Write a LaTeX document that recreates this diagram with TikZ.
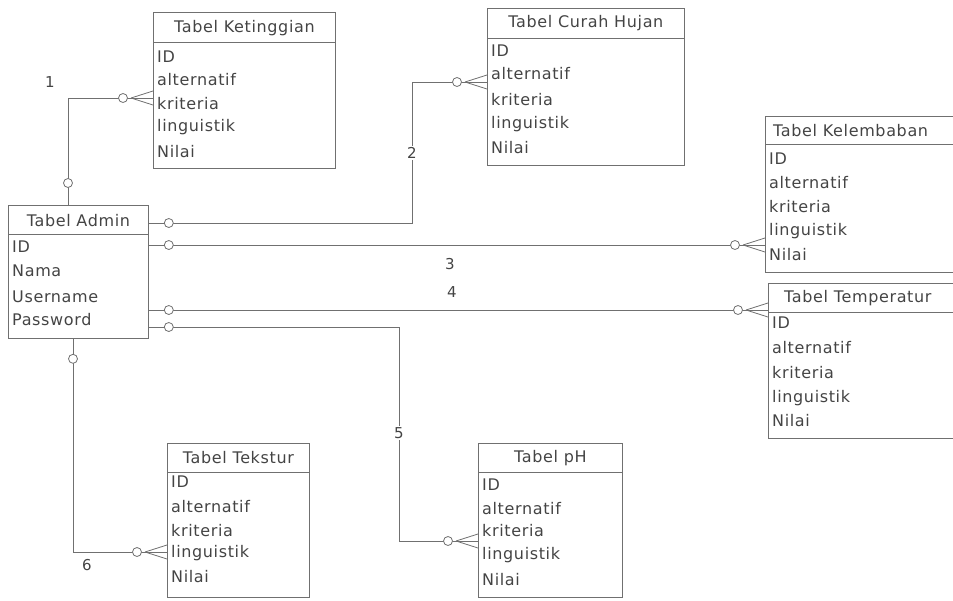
\documentclass[tikz,border=0pt]{standalone}
\usepackage{fontspec}
\setmainfont{DejaVu Sans}
\newfontfamily\erfont[LetterSpace=4]{DejaVu Sans}
\usetikzlibrary{calc}
\definecolor{linec}{RGB}{112,112,112}
\definecolor{textc}{RGB}{68,68,68}
\tikzset{
  ebox/.style={draw=linec, line width=0.8pt, inner sep=0pt, anchor=north west},
  eline/.style={draw=linec, line width=0.8pt},
  ttl/.style={text=textc, font=\erfont\fontsize{16}{19}\selectfont, inner sep=0pt},
  row/.style={text=textc, font=\erfont\fontsize{16}{19}\selectfont, inner sep=0pt, anchor=west},
  lbl/.style={text=textc, font=\erfont\fontsize{15}{18}\selectfont, inner sep=1.5pt, fill=white},
  conn/.style={draw=linec, line width=0.8pt},
  ring/.style={draw=linec, line width=0.8pt, fill=white},
}
\newcommand{\ent}[6]{%
  \node[ebox, minimum width=#4pt, minimum height=#5pt] (#1) at (#2,#3) {};
  \draw[eline] ($(#1.north west)+(0,#6)$) -- ($(#1.north east)+(0,#6)$);
}
% crow's foot entering target point #1 from the left
\newcommand{\crowfoot}[1]{%
  \draw[conn] ($(#1)+(-22,0)$) -- ($(#1)+(0,-7)$);
  \draw[conn] ($(#1)+(-22,0)$) -- ($(#1)+(0,7)$);
  \draw[ring] ($(#1)+(-30,0)$) circle (4.5pt);
}
\begin{document}
\begin{tikzpicture}[x=1pt,y=-1pt]
\useasboundingbox (0,0) rectangle (953,600);

% ---- entities ----
\ent{ket}{153}{12}{182}{156}{30}
\node[ttl] (ket-t) at ($(ket.north)+(0,16)$) {Tabel Ketinggian};
\foreach \t/\y [count=\i] in {ID/57,alternatif/80,kriteria/104,linguistik/127,Nilai/152}
  \node[row] (ket-\i) at (157,\y) {\t};

\ent{cur}{487}{8}{197}{157}{30}
\node[ttl] (cur-t) at ($(cur.north)+(0,15)$) {Tabel Curah Hujan};
\foreach \t/\y [count=\i] in {ID/51,alternatif/74,kriteria/100,linguistik/124,Nilai/148}
  \node[row] (cur-\i) at (491,\y) {\t};

\ent{kel}{765}{116}{192}{156}{28}
\node[ttl, anchor=west] (kel-t) at (773,131) {Tabel Kelembaban};
\foreach \t/\y [count=\i] in {ID/159,alternatif/183,kriteria/207,linguistik/231,Nilai/255}
  \node[row] (kel-\i) at (769,\y) {\t};

\ent{tem}{768}{283}{189}{155}{29}
\node[ttl, anchor=west] (tem-t) at (784,298) {Tabel Temperatur};
\foreach \t/\y [count=\i] in {ID/323,alternatif/348,kriteria/373,linguistik/398,Nilai/421}
  \node[row] (tem-\i) at (772,\y) {\t};

\ent{adm}{8}{205}{140}{133}{29}
\node[ttl] (adm-t) at ($(adm.north)+(0,16)$) {Tabel Admin};
\foreach \t/\y [count=\i] in {ID/247,Nama/271,Username/297,Password/320}
  \node[row] (adm-\i) at (12,\y) {\t};

\ent{tek}{167}{443}{142}{154}{29}
\node[ttl] (tek-t) at ($(tek.north)+(0,15)$) {Tabel Tekstur};
\foreach \t/\y [count=\i] in {ID/482,alternatif/507,kriteria/531,linguistik/553,Nilai/577}
  \node[row] (tek-\i) at (171,\y) {\t};

\ent{ph}{478}{443}{144}{154}{29}
\node[ttl] (ph-t) at ($(ph.north)+(0,15)$) {Tabel pH};
\foreach \t/\y [count=\i] in {ID/485,alternatif/509,kriteria/531,linguistik/555,Nilai/580}
  \node[row] (ph-\i) at (482,\y) {\t};

% ---- connector end points ----
\coordinate (s1) at ($(adm.north west)+(60,0)$);
\coordinate (t1) at ($(ket.north west)+(0,86)$);
\coordinate (s2) at ($(adm.north east)+(0,18)$);
\coordinate (t2) at ($(cur.north west)+(0,74)$);
\coordinate (b2) at (412,223);
\coordinate (s3) at ($(adm.north east)+(0,40)$);
\coordinate (t3) at ($(kel.north west)+(0,129)$);
\coordinate (s4) at ($(adm.north east)+(0,105)$);
\coordinate (t4) at ($(tem.north west)+(0,27)$);
\coordinate (s5) at ($(adm.north east)+(0,122)$);
\coordinate (t5) at ($(ph.north west)+(0,98)$);
\coordinate (b5) at (399,327);
\coordinate (s6) at ($(adm.south west)+(65,0)$);
\coordinate (t6) at ($(tek.north west)+(0,109)$);

% ---- connectors ----
\draw[conn] (s1) |- (t1);
\draw[conn] (s2) -- (b2) |- (t2);
\draw[conn] (s3) -- (t3);
\draw[conn] (s4) -- (t4);
\draw[conn] (s5) -- (b5) |- (t5);
\draw[conn] (s6) |- (t6);

% one-side rings
\draw[ring] ($(s1)+(0,-22)$) circle (4.5pt);
\draw[ring] ($(s2)+(20,0)$) circle (4.5pt);
\draw[ring] ($(s3)+(20,0)$) circle (4.5pt);
\draw[ring] ($(s4)+(20,0)$) circle (4.5pt);
\draw[ring] ($(s5)+(20,0)$) circle (4.5pt);
\draw[ring] ($(s6)+(0,20)$) circle (4.5pt);

% many-side crow's feet
\crowfoot{t1}
\crowfoot{t2}
\crowfoot{t3}
\crowfoot{t4}
\crowfoot{t5}
\crowfoot{t6}

% ---- labels ----
\node[lbl] (l1) at (50,82) {1};
\node[lbl] (l2) at (412,153) {2};
\node[lbl] (l3) at (450,264) {3};
\node[lbl] (l4) at (452,292) {4};
\node[lbl] (l5) at (399,433) {5};
\node[lbl] (l6) at (87,565) {6};
\end{tikzpicture}
\end{document}
